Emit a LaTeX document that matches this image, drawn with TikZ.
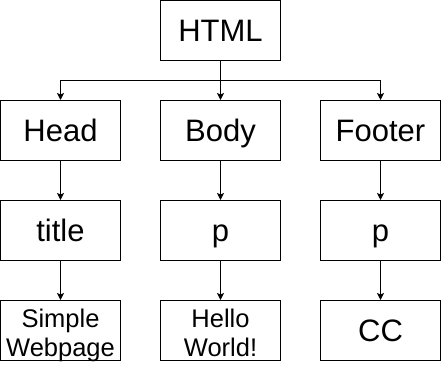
\documentclass[tikz,border=0pt]{standalone}
\usepackage{fontspec}
\setmainfont{Liberation Sans}
\usetikzlibrary{arrows.meta,positioning}

\tikzset{
 box/.style={draw,line width=1pt,minimum width=120pt,minimum height=60pt,inner sep=0pt,align=center,
   font=\fontsize{31}{35}\selectfont,text height=22pt,text depth=0pt},
 small/.style={font=\fontsize{25.5}{29}\selectfont,text height=51.4pt,text depth=0pt},
 link/.style={line width=1pt,-{Stealth[length=7pt,width=7pt,inset=1.5pt]}}
}

\begin{document}
\begin{tikzpicture}[x=1pt,y=-1pt]
 \useasboundingbox (0,0) rectangle (443,364);
 \node[box] (html) at (220.5,30.5) {HTML};
 \node[box] (head) at (60.5,130.5) {Head};
 \node[box] (body) at (220.5,130.5) {Body};
 \node[box] (footer) at (380.5,130.5) {Footer};
 \node[box] (title) at (60.5,230.5) {title};
 \node[box] (bp) at (220.5,230.5) {p};
 \node[box] (fp) at (380.5,230.5) {p};
 \node[box,small] (simple) at (60.5,330.5) {Simple\\Webpage};
 \node[box,small] (hello) at (220.5,330.5) {Hello\\World!};
 \node[box] (cc) at (380.5,330.5) {CC};
 \coordinate (split) at (220.5,80.5);
 \draw[line width=1pt] (html) -- (split);
 \foreach \n in {head,body,footer}
   \draw[link] (split) -| (\n);
 \draw[link] (head) -- (title);
 \draw[link] (body) -- (bp);
 \draw[link] (footer) -- (fp);
 \draw[link] (title) -- (simple);
 \draw[link] (bp) -- (hello);
 \draw[link] (fp) -- (cc);
\end{tikzpicture}
\end{document}
